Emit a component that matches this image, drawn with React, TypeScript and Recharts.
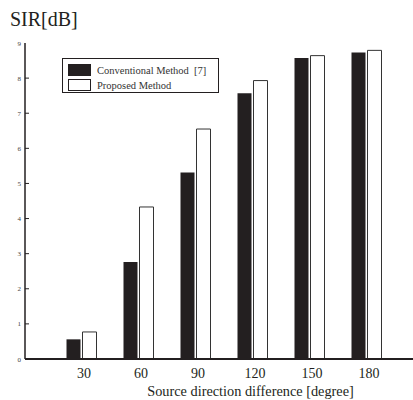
import React from "react";
import { BarChart, Bar, XAxis, YAxis, Legend } from "recharts";

const directions = [30, 60, 90, 120, 150, 180];
const conventional = [0.56, 2.76, 5.31, 7.57, 8.57, 8.73];
const proposed = [0.77, 4.33, 6.55, 7.93, 8.64, 8.79];
const seriesNames = ["Conventional Method  [7]", "Proposed Method"];
const yTicks = [0, 1, 2, 3, 4, 5, 6, 7, 8, 9];

const FONT = "'Liberation Serif', 'Times New Roman', serif";
const INK = "#231f20";

const data = directions.map((d, i) => ({
  dir: d,
  conv: conventional[i],
  prop: proposed[i],
}));

// y labels sit outside, tick marks point into the plot
const YTick = (props: any) => {
  const { x, y, payload } = props;
  return (
    <g>
      <text x={x + 1} y={y} dy={2.5} textAnchor="end" fontSize={7} fill="#444" fontFamily={FONT}>
        {payload.value}
      </text>
      {payload.value > 0 && payload.value < 9 && (
        <line x1={x + 5} x2={x + 9} y1={y} y2={y} stroke={INK} strokeWidth={1} />
      )}
    </g>
  );
};

const TopTick = (props: any) => {
  const { x, y } = props;
  return <line x1={x} x2={x} y1={y} y2={y + 4} stroke={INK} strokeWidth={1} />;
};

const XTick = (props: any) => {
  const { x, y, payload } = props;
  return (
    <text x={x + 2} y={y} dy={10} textAnchor="middle" fontSize={14} fill={INK} fontFamily={FONT}>
      {payload.value}
    </text>
  );
};

const LegendBox = () => (
  <div
    style={{
      border: `1.5px solid ${INK}`,
      width: 157,
      height: 35,
      boxSizing: "border-box",
      padding: "4px 0 0 5px",
      background: "#fff",
      fontFamily: FONT,
      fontSize: 10.5,
      color: "#333",
    }}
  >
    {seriesNames.map((name, i) => (
      <div key={name} style={{ display: "flex", alignItems: "center", height: 14, marginBottom: 1 }}>
        <div
          style={{
            width: 23,
            height: 12,
            boxSizing: "border-box",
            background: i === 0 ? INK : "#fff",
            border: `1px solid ${INK}`,
            marginRight: 6,
          }}
        />
        <span style={{ whiteSpace: "pre" }}>{name}</span>
      </div>
    ))}
  </div>
);

export default function App() {
  return (
    <div
      style={{
        position: "fixed",
        left: 0,
        top: 0,
        width: 413,
        height: 400,
        overflow: "hidden",
        background: "#fff",
      }}
    >
      <div
        style={{
          position: "absolute",
          left: 10,
          top: 9,
          fontFamily: FONT,
          fontSize: 20,
          lineHeight: 1,
          color: INK,
          zIndex: 2,
        }}
      >
        SIR[dB]
      </div>
      <BarChart
        width={430}
        height={400}
        data={data}
        margin={{ top: 43, right: 6, left: 0, bottom: 0 }}
        barSize={14}
        barGap={2}
      >
        <XAxis
          xAxisId="top"
          orientation="top"
          type="number"
          dataKey="dir"
          domain={[0, 210]}
          ticks={directions}
          height={0}
          tickSize={0}
          tickMargin={0}
          tickLine={false}
          tick={<TopTick />}
          axisLine={{ stroke: "#333", strokeWidth: 1.5 }}
        />
        <XAxis
          dataKey="dir"
          type="number"
          domain={[0, 210]}
          ticks={directions}
          height={41}
          tickSize={0}
          tickMargin={9}
          tickLine={false}
          axisLine={{ stroke: INK, strokeWidth: 2 }}
          tick={<XTick />}
          label={{
            value: "Source direction difference [degree]",
            position: "insideBottom",
            offset: 4,
            dx: 26,
            fontSize: 14.3,
            fill: INK,
            fontFamily: FONT,
          }}
        />
        <YAxis
          domain={[0, 9]}
          ticks={yTicks}
          width={25}
          tickSize={0}
          tickMargin={5}
          tickLine={false}
          tick={<YTick />}
          axisLine={{ stroke: INK, strokeWidth: 1.5 }}
        />
        <Legend
          layout="vertical"
          align="center"
          verticalAlign="middle"
          content={() => <LegendBox />}
          wrapperStyle={{ left: 62, top: 58, width: 157, height: 35 }}
        />
        <Bar dataKey="conv" name={seriesNames[0]} fill={INK} isAnimationActive={false} />
        <Bar
          dataKey="prop"
          name={seriesNames[1]}
          fill="#fff"
          stroke="#333"
          strokeWidth={1}
          isAnimationActive={false}
        />
      </BarChart>
    </div>
  );
}
